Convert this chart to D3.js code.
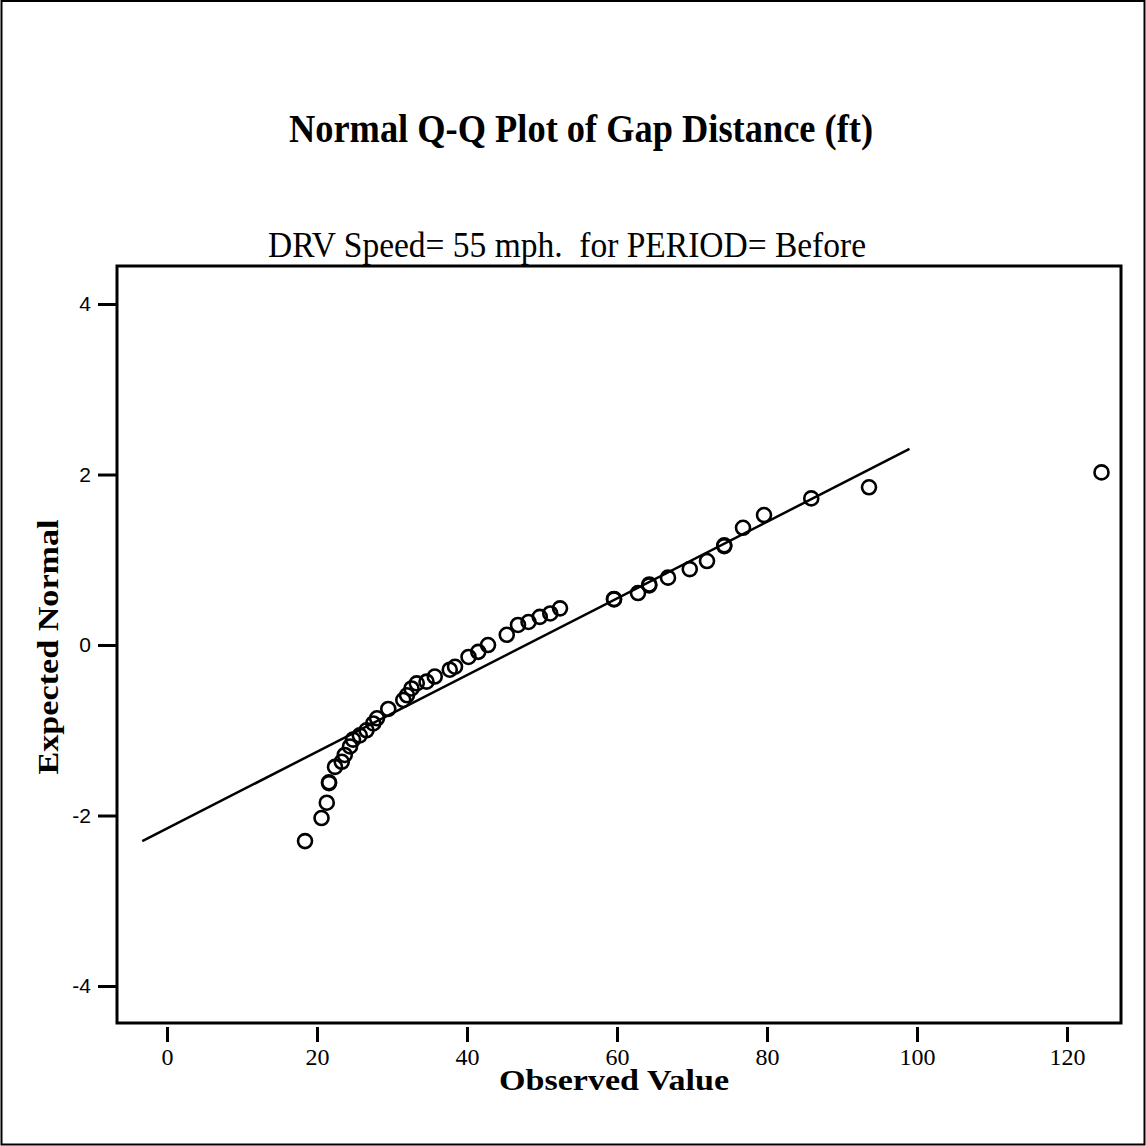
<!DOCTYPE html>
<html>
<head>
<meta charset="utf-8">
<script src="https://cdn.jsdelivr.net/npm/d3@7/dist/d3.min.js"></script>
<style>
  html, body { margin: 0; padding: 0; background: #fff; }
  svg { display: block; }
  .tick text { fill: #000; }
</style>
</head>
<body>
<script>
// Gap distance observations (ft) and their expected normal scores
const observedValue = [
  18.4, 20.6, 21.3, 21.6, 21.6, 22.4, 23.3, 23.7, 24.4, 24.8,
  25.7, 26.6, 27.5, 28.0, 29.5, 31.5, 32.0, 32.6, 33.3, 34.6,
  35.7, 37.7, 38.4, 40.2, 41.5, 42.8, 45.3, 46.8, 48.2, 49.7,
  51.1, 52.4, 59.6, 59.6, 62.8, 64.3, 64.3, 66.8, 69.7, 72.0,
  74.3, 74.3, 76.8, 79.6, 85.9, 93.6, 124.6
];
const expectedNormal = [
  -2.30, -2.03, -1.85, -1.62, -1.61, -1.43, -1.37, -1.29, -1.19, -1.11,
  -1.06, -1.00, -0.92, -0.86, -0.75, -0.645, -0.59, -0.51, -0.45, -0.43,
  -0.37, -0.29, -0.255, -0.14, -0.08, 0.00, 0.12, 0.235, 0.27, 0.33,
  0.37, 0.43, 0.535, 0.54, 0.61, 0.70, 0.71, 0.79, 0.89, 0.985,
  1.16, 1.17, 1.375, 1.525, 1.72, 1.85, 2.025
];

// Reference line of the fitted normal distribution (end points)
const lineObserved = [-3.3, 99.0];
const lineExpected = [-2.3, 2.3];

const xTicks = [0, 20, 40, 60, 80, 100, 120];
const yTicks = [-4, -2, 0, 2, 4];

const W = 1146, H = 1146;
const plot = { left: 117, right: 1121, top: 266, bottom: 1023 };
const serif = "'Liberation Serif', 'Times New Roman', serif";

const svg = d3.select("body").append("svg")
  .attr("width", W).attr("height", H);

// outer frame
svg.append("rect")
  .attr("x", 1.5).attr("y", 1).attr("width", W - 3).attr("height", H - 2.5)
  .attr("fill", "none").attr("stroke", "#000").attr("stroke-width", 2);

const x = d3.scaleLinear().domain([-6.67, 127.2]).range([plot.left, plot.right]);
const y = d3.scaleLinear().domain([-4.434, 4.446]).range([plot.bottom, plot.top]);

// titles
svg.append("text")
  .attr("x", 581).attr("y", 142)
  .attr("text-anchor", "middle")
  .style("font-family", serif)
  .style("font-weight", "bold").style("font-size", "40px")
  .attr("textLength", 584).attr("lengthAdjust", "spacingAndGlyphs")
  .text("Normal Q-Q Plot of Gap Distance (ft)");

svg.append("text")
  .attr("x", 567).attr("y", 257)
  .attr("text-anchor", "middle")
  .style("font-family", serif)
  .style("font-size", "35px")
  .attr("textLength", 598).attr("lengthAdjust", "spacingAndGlyphs")
  .style("white-space", "pre")
  .text("DRV Speed= 55 mph.  for PERIOD= Before");

// axes
const fmt = d => String(d);
const xAxis = d3.axisBottom(x).tickValues(xTicks).tickSize(15).tickPadding(6)
  .tickFormat(fmt);
const gx = svg.append("g").attr("transform", `translate(0,${plot.bottom + 4})`).call(xAxis);
gx.select(".domain").remove();
gx.selectAll(".tick line").attr("stroke", "#000").attr("stroke-width", 3);
gx.selectAll(".tick text")
  .style("font-family", serif)
  .style("font-size", "24px");

const yAxis = d3.axisLeft(y).tickValues(yTicks).tickSize(19).tickPadding(7)
  .tickFormat(fmt);
const gy = svg.append("g").attr("transform", `translate(${plot.left},0)`).call(yAxis);
gy.select(".domain").remove();
gy.selectAll(".tick line").attr("stroke", "#000").attr("stroke-width", 3);
gy.selectAll(".tick text")
  .style("font-family", "'Liberation Sans', Arial, sans-serif")
  .style("font-size", "21px");

// plot frame
svg.append("rect")
  .attr("x", plot.left).attr("y", plot.top)
  .attr("width", plot.right - plot.left).attr("height", plot.bottom - plot.top)
  .attr("fill", "none").attr("stroke", "#000").attr("stroke-width", 3);

// axis titles
svg.append("text")
  .attr("x", 614).attr("y", 1090)
  .attr("text-anchor", "middle")
  .style("font-family", serif)
  .style("font-weight", "bold").style("font-size", "29px")
  .attr("textLength", 230).attr("lengthAdjust", "spacingAndGlyphs")
  .text("Observed Value");

svg.append("text")
  .attr("transform", "translate(58,647) rotate(-90)")
  .attr("text-anchor", "middle")
  .style("font-family", serif)
  .style("font-weight", "bold").style("font-size", "30px")
  .attr("textLength", 255).attr("lengthAdjust", "spacingAndGlyphs")
  .text("Expected Normal");

// fitted line
svg.append("line")
  .attr("x1", x(lineObserved[0])).attr("y1", y(lineExpected[0]))
  .attr("x2", x(lineObserved[1])).attr("y2", y(lineExpected[1]))
  .attr("stroke", "#000").attr("stroke-width", 2.5);

// observations
const pts = observedValue.map((v, i) => ({ v, z: expectedNormal[i] }));
svg.append("g").selectAll("circle").data(pts).join("circle")
  .attr("cx", d => x(d.v)).attr("cy", d => y(d.z))
  .attr("r", 7)
  .attr("fill", "none").attr("stroke", "#000").attr("stroke-width", 2.6);
</script>
</body>
</html>
